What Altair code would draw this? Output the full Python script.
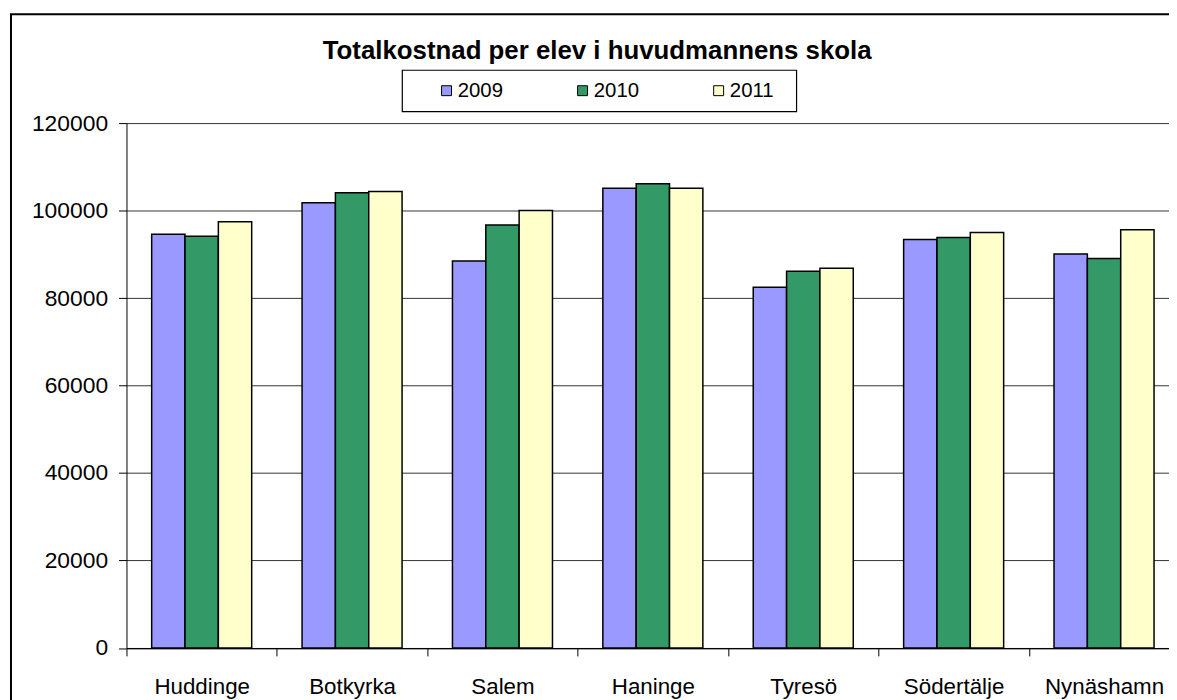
import altair as alt
import pandas as pd

categories = ["Huddinge", "Botkyrka", "Salem", "Haninge", "Tyresö", "Södertälje", "Nynäshamn"]
years = ["2009", "2010", "2011"]
values_2009 = [94600, 101800, 88450, 105100, 82480, 93380, 90080]
values_2010 = [94150, 104050, 96700, 106150, 86150, 93830, 89020]
values_2011 = [97450, 104350, 100000, 105100, 86840, 94960, 95640]
colors = ["#9999FF", "#339966", "#FFFFCC"]
title_text = "Totalkostnad per elev i huvudmannens skola"
y_ticks = [0, 20000, 40000, 60000, 80000, 100000, 120000]

rows = []
for yr, vals in zip(years, [values_2009, values_2010, values_2011]):
    for c, v in zip(categories, vals):
        rows.append({"Kommun": c, "År": yr, "Kostnad": v})
df = pd.DataFrame(rows)

FONT = "Liberation Sans"
W, H = 1060, 528.5

bars = alt.Chart(df).mark_bar(stroke="black", strokeWidth=1.5).encode(
    x=alt.X("Kommun:N", sort=categories, title=None,
            scale=alt.Scale(paddingInner=0, paddingOuter=0),
            axis=alt.Axis(tickBand="extent", labelAngle=0, labelFontSize=22.5, labelFont=FONT,
                          labelColor="black", labelPadding=20, tickSize=8, tickColor="black",
                          domainColor="black", grid=False)),
    xOffset=alt.XOffset("År:N", sort=years, scale=alt.Scale(paddingInner=0, paddingOuter=0.7555)),
    y=alt.Y("Kostnad:Q", title=None,
            scale=alt.Scale(domain=[0, 120000], nice=False),
            axis=alt.Axis(values=y_ticks, format="d", labelFontSize=23, labelFont=FONT,
                          labelColor="black", labelPadding=11, tickSize=8, tickColor="black",
                          domainColor="black", grid=True, gridColor="#333333", gridWidth=1)),
    color=alt.Color("År:N", sort=years, scale=alt.Scale(domain=years, range=colors),
                    legend=alt.Legend(orient="none", legendX=312, legendY=-43,
                                      direction="horizontal", columns=3, title=None,
                                      symbolType="square", symbolSize=100,
                                      symbolStrokeColor="black", symbolStrokeWidth=1,
                                      labelFontSize=20.5, labelFont=FONT, labelColor="black",
                                      labelOffset=1, columnPadding=69, padding=0)),
)

one = pd.DataFrame({"a": [0]})

title = alt.Chart(one).mark_text(
    text=title_text, font=FONT, fontSize=26, fontWeight="bold", color="black",
    align="center", baseline="alphabetic"
).encode(x=alt.value(473.9), y=alt.value(-64.2))

legend_box = alt.Chart(one).mark_rect(fillOpacity=0, stroke="black", strokeWidth=1.2).encode(
    x=alt.value(277.7), x2=alt.value(674.7), y=alt.value(-53.2), y2=alt.value(-11.5))

outer = alt.Chart(one).mark_rect(fillOpacity=0, stroke="black", strokeWidth=2).encode(
    x=alt.value(-116.3), x2=alt.value(1300), y=alt.value(-109.5), y2=alt.value(700))

chart = alt.layer(outer, legend_box, bars, title).properties(
    width=W, height=H,
    autosize=alt.AutoSizeParams(type="none"),
    padding={"left": 119.3, "top": 113.5, "right": -10.3, "bottom": 50},
    background="white",
).configure_view(stroke=None)

chart.save("out.html", embed_options={"renderer": "svg", "actions": False})
